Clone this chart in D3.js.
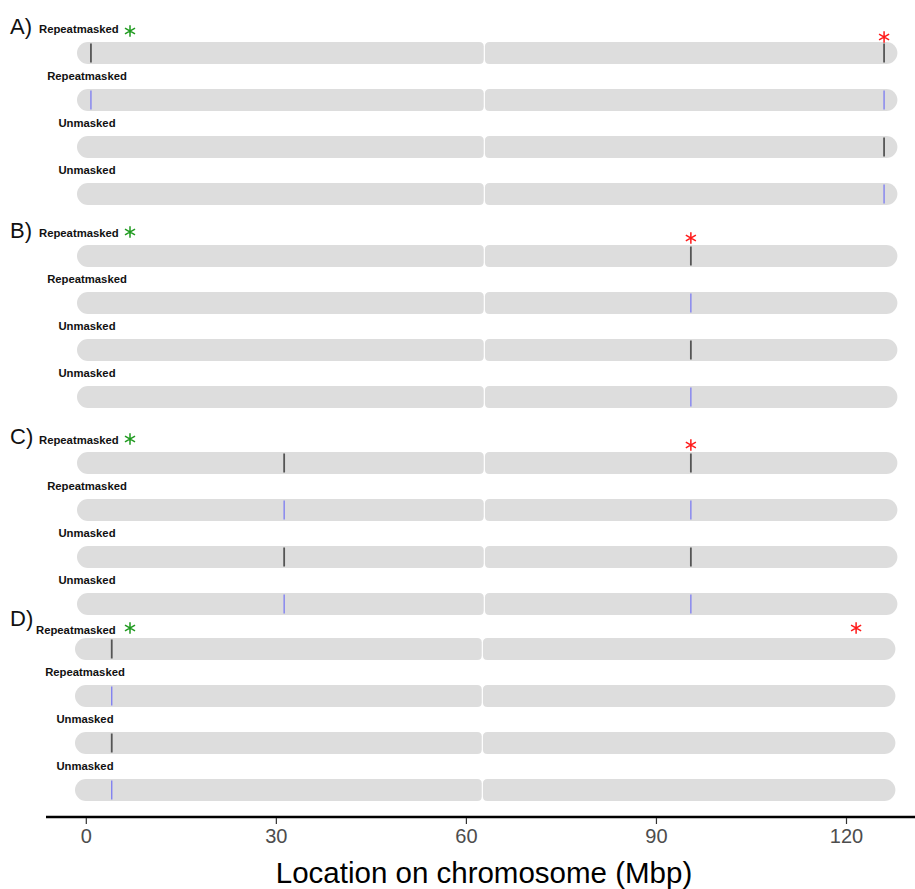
<!DOCTYPE html>
<html>
<head>
<meta charset="utf-8">
<script src="https://cdnjs.cloudflare.com/ajax/libs/d3/7.8.5/d3.min.js"></script>
<style>
  body { margin: 0; background: #fff; }
  text { font-family: "Liberation Sans", Arial, sans-serif; }
</style>
</head>
<body>
<div id="chart"></div>
<script>
// chromosome data (Mbp)
var panelNames = ["A)", "B)", "C)", "D)"];
var trackNames = ["Repeatmasked", "Repeatmasked", "Unmasked", "Unmasked"];
var trackColors = ["#555555", "#7b7bf2", "#555555", "#7b7bf2"];
var chromLength = 129.5;
var centromere = 64.3;
// marker positions for each panel, one list per track
var markersA = [[2.2, 127.4], [2.2, 127.4], [127.4], [127.4]];
var markersB = [[96.9], [96.9], [96.9], [96.9]];
var markersC = [[32.7, 96.9], [32.7, 96.9], [32.7, 96.9], [32.7, 96.9]];
var markersD = [[5.8], [5.8], [5.8], [5.8]];
var panelMarkers = [markersA, markersB, markersC, markersD];
// red star position for each panel
var redStars = [127.4, 96.9, 96.9, 123.3];
var axisTicks = [0, 30, 60, 90, 120];

function drawSvg() {
  var width = 915;
  var height = 889;
  var trackGap = 47;
  var barH = 22;

  // panel layout: first bar centre and horizontal shift
  var panelTop = [53, 256, 463, 649];
  var panelShift = [-8.8, -8.8, -8.8, -10.8];
  var letterY = [26, 230, 436, 618];
  var firstLabelY = [29, 233, 440, 630];
  var greenY = [31, 232, 439, 628];
  var redY = [37, 238, 445, 628];

  var xScale = d3.scaleLinear()
    .domain([0, 120])
    .range([85.8, 846]);

  var star = d3.symbol().type(d3.symbolAsterisk).size(95);

  var svg = d3.select("#chart")
    .append("svg")
    .attr("width", width)
    .attr("height", height);

  panelNames.forEach(function(name, p) {
    var g = svg.append("g");

    g.append("text")
      .attr("x", 10)
      .attr("y", letterY[p])
      .attr("dy", "0.35em")
      .attr("font-size", 22)
      .attr("fill", "#111")
      .text(name);

    var inner = g.append("g")
      .attr("transform", "translate(" + panelShift[p] + ",0)");

    trackNames.forEach(function(track, t) {
      var cy = panelTop[p] + t * trackGap;
      var y0 = cy - barH / 2;

      // p arm and q arm, pinched at the centromere
      var arms = [[0, centromere], [centromere, chromLength]];
      arms.forEach(function(a, k) {
        var x0 = xScale(a[0]) + (k == 1 ? 0.6 : 0);
        var x1 = xScale(a[1]) - (k == 0 ? 0.6 : 0);
        var r = barH / 2;
        var c = 4.5;
        var path;
        if (k == 0) {
          path = "M" + (x0 + r) + "," + y0 +
            "L" + (x1 - c) + "," + y0 +
            "Q" + x1 + "," + y0 + " " + x1 + "," + (y0 + c) +
            "L" + x1 + "," + (y0 + barH - c) +
            "Q" + x1 + "," + (y0 + barH) + " " + (x1 - c) + "," + (y0 + barH) +
            "L" + (x0 + r) + "," + (y0 + barH) +
            "A" + r + "," + r + " 0 0 1 " + (x0 + r) + "," + y0 + "Z";
        } else {
          path = "M" + (x0 + c) + "," + y0 +
            "L" + (x1 - r) + "," + y0 +
            "A" + r + "," + r + " 0 0 1 " + (x1 - r) + "," + (y0 + barH) +
            "L" + (x0 + c) + "," + (y0 + barH) +
            "Q" + x0 + "," + (y0 + barH) + " " + x0 + "," + (y0 + barH - c) +
            "L" + x0 + "," + (y0 + c) +
            "Q" + x0 + "," + y0 + " " + (x0 + c) + "," + y0 + "Z";
        }
        inner.append("path")
          .attr("d", path)
          .attr("fill", "#dddddd");
      });

      inner.selectAll(".mark-" + p + "-" + t)
        .data(panelMarkers[p][t])
        .enter()
        .append("line")
        .attr("x1", (d) => xScale(d))
        .attr("x2", (d) => xScale(d))
        .attr("y1", y0 + 1.5)
        .attr("y2", y0 + barH - 1.5)
        .attr("stroke", trackColors[t])
        .attr("stroke-width", t % 2 == 0 ? 1.8 : 1.3);

      // track label
      var lab = g.append("text")
        .attr("font-size", 11.3)
        .attr("font-weight", "bold")
        .attr("fill", "#111")
        .attr("dy", "0.35em")
        .text(track);
      if (t == 0) {
        lab.attr("x", p == 3 ? 36 : 39).attr("y", firstLabelY[p]);
      } else {
        lab.attr("x", 87 + panelShift[p] + 8.8).attr("y", cy - 24).attr("text-anchor", "middle");
      }
    });

    // significance stars
    g.append("path")
      .attr("d", star)
      .attr("transform", "translate(130," + greenY[p] + ")")
      .attr("fill", "none")
      .attr("stroke", "#1f9a1f")
      .attr("stroke-width", 1.5);

    inner.append("path")
      .attr("d", star)
      .attr("transform", "translate(" + xScale(redStars[p]) + "," + redY[p] + ")")
      .attr("fill", "none")
      .attr("stroke", "#ff1a1a")
      .attr("stroke-width", 1.5);
  });

  // bottom axis
  var axisY = 817;
  svg.append("line")
    .attr("x1", 46)
    .attr("x2", width)
    .attr("y1", axisY)
    .attr("y2", axisY)
    .attr("stroke", "#000")
    .attr("stroke-width", 2.4);

  var xAxis = d3.axisBottom(xScale)
    .tickValues(axisTicks)
    .tickSize(6)
    .tickPadding(5);

  var ax = svg.append("g")
    .attr("id", "x-axis")
    .attr("transform", "translate(0," + (axisY + 1) + ")")
    .call(xAxis);
  ax.select(".domain").remove();
  ax.selectAll(".tick line").attr("stroke", "#333").attr("stroke-width", 1.2);
  ax.selectAll(".tick text")
    .attr("font-size", 20)
    .attr("font-family", "Liberation Sans, Arial, sans-serif")
    .attr("fill", "#4d4d4d");

  svg.append("text")
    .attr("x", 484)
    .attr("y", 873)
    .attr("dy", "0.35em")
    .attr("text-anchor", "middle")
    .attr("font-size", 29.5)
    .attr("fill", "#000")
    .text("Location on chromosome (Mbp)");
}

drawSvg();
</script>
</body>
</html>
